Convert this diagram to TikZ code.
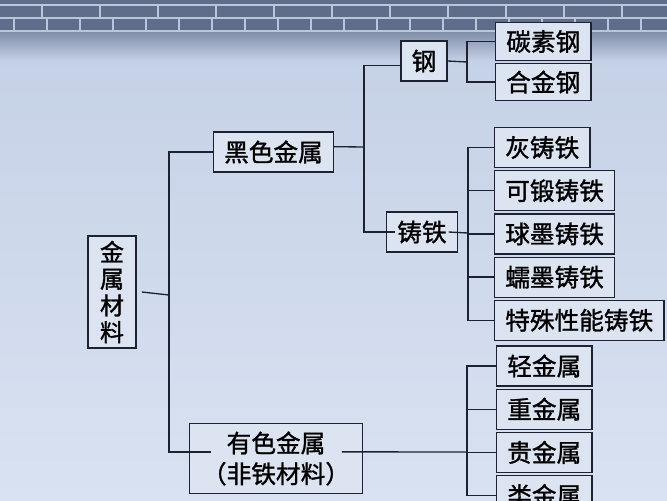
\documentclass[tikz,border=0pt]{standalone}
\usepackage{fontspec}
\newfontfamily\cjk[FakeBold=1.2]{Noto Sans CJK SC}
\usetikzlibrary{positioning}

\definecolor{bgtop}{HTML}{C3CFE5}
\definecolor{bgmid}{HTML}{D9E2F2}
\definecolor{wall}{HTML}{5F6D8A}
\definecolor{mortar}{HTML}{B9C5DA}
\definecolor{boxfill}{HTML}{DCE4F1}
\definecolor{ink}{HTML}{1C2232}

\tikzset{
  kind/.style={draw=ink, line width=0.9pt, fill=boxfill, inner xsep=8pt, inner ysep=0pt,
    minimum height=30pt, font=\cjk\fontsize{18.5}{23}\selectfont, text=black, align=center},
  leaf/.style={kind},
  link/.style={draw=ink, line width=1pt},
}

\begin{document}
\begin{tikzpicture}[x=0.75pt, y=-0.75pt]
\useasboundingbox (0,0) rectangle (667,500);
% background
\fill[bottom color=bgmid, top color=bgtop] (0,0) rectangle (667,500);
\fill[top color=wall!70!bgtop, bottom color=bgtop] (0,30) rectangle (667,60);
\fill[wall] (0,0) rectangle (667,32);
\draw[mortar, line width=0.8pt] (0,5) -- (667,5) (0,18) -- (667,18) (0,31) -- (667,31);
\foreach \x in {42,100,...,667}
  \draw[mortar, line width=0.8pt] (\x,5) -- (\x,18);
\foreach \x in {14,47,...,667}
  \draw[mortar, line width=0.8pt] (\x,18) -- (\x,31);

% main nodes
\node[kind, minimum height=84pt, minimum width=36pt, inner xsep=2pt,
  font=\cjk\fontsize{18}{20}\selectfont] (cailiao) at (112,292) {金\\属\\材\\料};
\node[kind] (heise) at (273.5,152) {黑色金属};
\node[kind, minimum width=130pt, minimum height=53pt] (youse) at (276,458.5) {有色金属\\（非铁材料）};
\node[kind, minimum width=33pt] (gang) at (424,61) {钢};
\node[kind] (zhutie) at (422,232) {铸铁};

% steel
\node[leaf, anchor=west, minimum height=28pt] (tansu) at (495,41.5) {碳素钢};
\node[leaf, below right=1.5pt and 0pt of tansu.south west, anchor=north west, minimum height=28pt] (hejin) {合金钢};

% cast iron
\node[leaf, anchor=west] (hui) at (494,147.5) {灰铸铁};
\node[leaf, below right=1.5pt and 0pt of hui.south west, anchor=north west] (keduan) {可锻铸铁};
\node[leaf, below right=1.5pt and 0pt of keduan.south west, anchor=north west] (qiumo) {球墨铸铁};
\node[leaf, below right=1.5pt and 0pt of qiumo.south west, anchor=north west] (rumo) {蠕墨铸铁};
\node[leaf, below right=1.5pt and 0pt of rumo.south west, anchor=north west] (teshu) {特殊性能铸铁};

% non-ferrous
\node[leaf, anchor=west] (qing) at (496,366) {轻金属};
\node[leaf, below right=1.5pt and 0pt of qing.south west, anchor=north west] (zhong) {重金属};
\node[leaf, below right=1.5pt and 0pt of zhong.south west, anchor=north west] (gui) {贵金属};
\node[leaf, below right=1.5pt and 0pt of gui.south west, anchor=north west] (lei) {类金属};

% connectors
\coordinate (trunk) at (169,295);
\coordinate (ironfork) at (364,147);
\coordinate (steelfork) at (467,62);
\coordinate (castfork) at (468,233);
\coordinate (nonfefork) at (467,452);

\draw[link] ([xshift=4pt]cailiao.east) -- (trunk);
\draw[link] (heise.west) -| (trunk) |- ([xshift=17pt,yshift=5pt]youse.west);
\draw[link] ([xshift=-16pt,yshift=5pt]youse.east) -- (nonfefork);
\draw[link] ([yshift=4pt]heise.east) -- (ironfork);
\draw[link] ([yshift=-3.5pt]gang.west) -| (ironfork) |- ([xshift=7pt]zhutie.west);
\draw[link] (gang.east) -- (steelfork);
\draw[link] ([xshift=-7pt]zhutie.east) -- (castfork);
\foreach \kid in {tansu,hejin}
  \draw[link] (steelfork) |- (\kid.west);
\foreach \kid in {hui,keduan,qiumo,rumo,teshu}
  \draw[link] (castfork) |- (\kid.west);
\foreach \kid in {qing,zhong,gui,lei}
  \draw[link] (nonfefork) |- (\kid.west);
\end{tikzpicture}
\end{document}
